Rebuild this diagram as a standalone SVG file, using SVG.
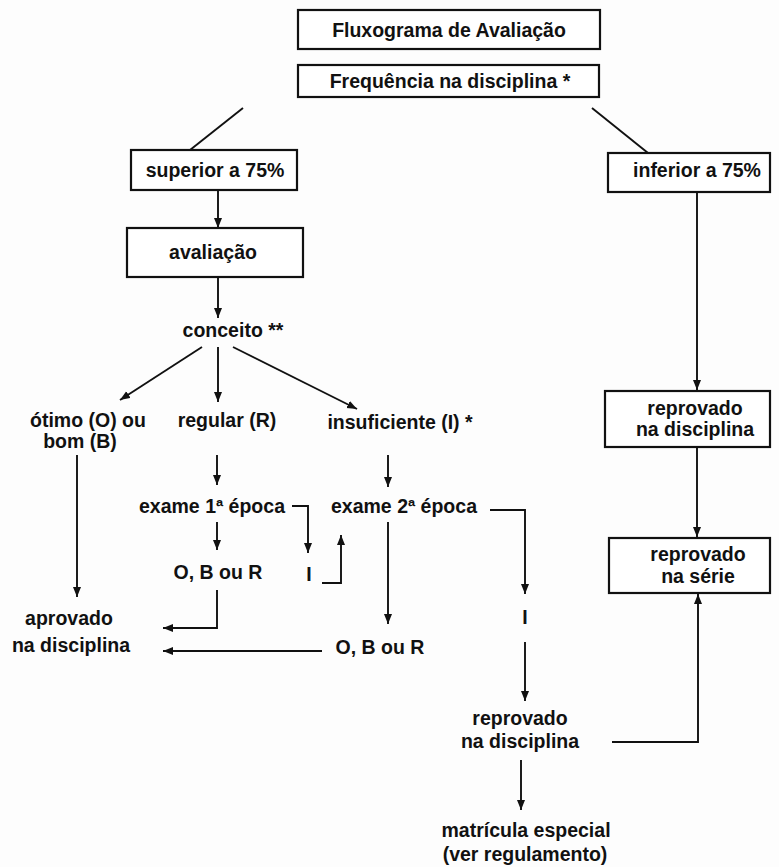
<svg xmlns="http://www.w3.org/2000/svg" width="779" height="867" viewBox="0 0 779 867">
<defs>
<marker id="ah" markerUnits="userSpaceOnUse" markerWidth="12" markerHeight="10" refX="10" refY="4" orient="auto">
<path d="M0,0 L10,4 L0,8 Z" fill="#111"/>
</marker>
</defs>
<style>
.box{fill:#fff;stroke:#111;stroke-width:2.2}
.t{font-family:"Liberation Sans",Arial,sans-serif;font-weight:bold;font-size:19.5px;fill:#111;text-anchor:middle}
.c{fill:none;stroke:#111;stroke-width:1.9}
.a{fill:none;stroke:#111;stroke-width:1.9;marker-end:url(#ah)}
</style>
<rect width="779" height="867" fill="#fdfdfd"/>
<g id="connectors">
<line class="c" x1="243" y1="108" x2="190" y2="150"/>
<line class="c" x1="592" y1="108" x2="648" y2="153"/>
<line class="a" x1="218" y1="190" x2="218" y2="228"/>
<line class="a" x1="218" y1="277" x2="218" y2="318"/>
<line class="a" x1="202" y1="347" x2="120" y2="400"/>
<line class="a" x1="218" y1="347" x2="218" y2="402"/>
<line class="a" x1="233" y1="347" x2="357" y2="409"/>
<line class="a" x1="77" y1="455" x2="77" y2="597"/>
<line class="a" x1="217" y1="455" x2="217" y2="485"/>
<line class="a" x1="388" y1="455" x2="388" y2="487"/>
<polyline class="a" points="292,506 308,506 308,553"/>
<line class="a" x1="217" y1="522" x2="217" y2="550"/>
<polyline class="a" points="322,583 341,583 341,535"/>
<polyline class="a" points="217,590 217,628 163,628"/>
<line class="a" x1="388" y1="522" x2="388" y2="624"/>
<line class="a" x1="322" y1="651" x2="163" y2="651"/>
<polyline class="a" points="490,510 525,510 525,594"/>
<line class="a" x1="525" y1="642" x2="525" y2="701"/>
<polyline class="a" points="612,742 698,742 698,594"/>
<line class="a" x1="521" y1="760" x2="521" y2="810"/>
<line class="a" x1="697" y1="192" x2="697" y2="390"/>
<line class="a" x1="697" y1="447" x2="697" y2="537"/>
</g>
<g id="n_titulo"><rect class="box" x="298" y="10" width="302" height="39"/><text class="t" x="449" y="37">Fluxograma de Avaliação</text></g>
<g id="n_frequencia"><rect class="box" x="298" y="65" width="301" height="32"/><text class="t" x="450" y="88">Frequência na disciplina *</text></g>
<g id="n_superior"><rect class="box" x="131" y="150" width="166" height="40"/><text class="t" x="215" y="177">superior a 75%</text></g>
<g id="n_avaliacao"><rect class="box" x="127" y="228" width="176" height="49"/><text class="t" x="213" y="259">avaliação</text></g>
<g id="n_inferior"><rect class="box" x="608" y="153" width="162" height="39"/><text class="t" x="697" y="177">inferior a 75%</text></g>
<g id="n_conceito"><text class="t" x="233" y="337">conceito **</text></g>
<g id="n_otimo"><text class="t" x="88" y="427">ótimo (O) ou</text><text class="t" x="80" y="448">bom (B)</text></g>
<g id="n_regular"><text class="t" x="227" y="427">regular (R)</text></g>
<g id="n_insuficiente"><text class="t" x="400" y="429">insuficiente (I) *</text></g>
<g id="n_exame1"><text class="t" x="212" y="513">exame 1ª época</text></g>
<g id="n_exame2"><text class="t" x="404" y="513">exame 2ª época</text></g>
<g id="n_obr1"><text class="t" x="218" y="579">O, B ou R</text></g>
<g id="n_i1"><text class="t" x="309" y="581">I</text></g>
<g id="n_aprovado"><text class="t" x="69" y="625">aprovado</text><text class="t" x="71" y="652">na disciplina</text></g>
<g id="n_obr2"><text class="t" x="380" y="654">O, B ou R</text></g>
<g id="n_i2"><text class="t" x="525" y="624">I</text></g>
<g id="n_reprovado2"><text class="t" x="520" y="725">reprovado</text><text class="t" x="520" y="748">na disciplina</text></g>
<g id="n_matricula"><text class="t" x="526" y="837">matrícula especial</text><text class="t" x="525" y="861">(ver regulamento)</text></g>
<g id="n_reprovado1"><rect class="box" x="605" y="391" width="165" height="56"/><text class="t" x="695" y="415">reprovado</text><text class="t" x="695" y="436">na disciplina</text></g>
<g id="n_serie"><rect class="box" x="609" y="538" width="161" height="55"/><text class="t" x="698" y="561">reprovado</text><text class="t" x="698" y="583">na série</text></g>
</svg>
